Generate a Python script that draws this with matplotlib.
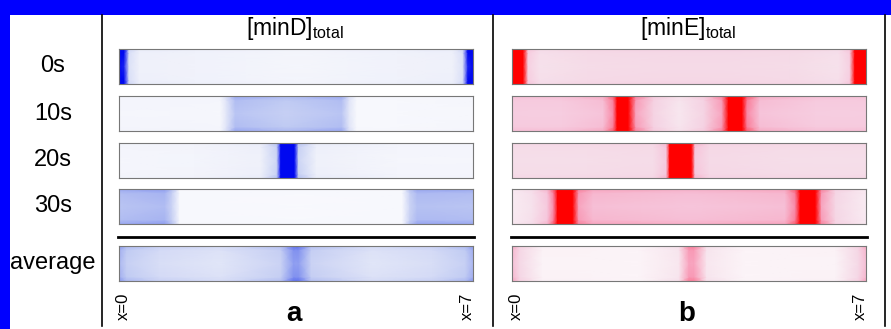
import numpy as np
import matplotlib
matplotlib.use('Agg')
import matplotlib.pyplot as plt
from matplotlib.colors import LinearSegmentedColormap
from matplotlib.patches import Rectangle

plt.rcParams['font.family'] = ['Liberation Sans', 'DejaVu Sans']
plt.rcParams['mathtext.fontset'] = 'custom'
plt.rcParams['mathtext.rm'] = 'Liberation Sans'
plt.rcParams['mathtext.it'] = 'Liberation Sans:italic'

# ---------------- data (concentration profiles along the cell, x in µm) ----------------
row_labels = ['0s', '10s', '20s', '30s', 'average']
panel_titles = [r'[minD]$_{\mathregular{total}}$', r'[minE]$_{\mathregular{total}}$']
panel_letters = ['a', 'b']

# minD (panel a)
D_0s_x = [0, 0.1, 0.2, 0.4, 1.5, 3.5, 5.5, 6.6, 6.8, 6.9, 7]
D_0s_v = [1.0, 0.9, 0.18, 0.09, 0.08, 0.05, 0.08, 0.09, 0.18, 0.9, 1.0]
D_10s_x = [0, 1.0, 2.0, 2.12, 2.3, 3.3, 4.4, 4.55, 4.7, 5.5, 7]
D_10s_v = [0.05, 0.05, 0.04, 0.15, 0.33, 0.28, 0.33, 0.15, 0.03, 0.03, 0.04]
D_20s_x = [0, 1.5, 2.8, 3.12, 3.2, 3.47, 3.55, 3.9, 5.5, 7]
D_20s_v = [0.05, 0.06, 0.09, 0.25, 1.0, 1.0, 0.25, 0.09, 0.05, 0.05]
D_30s_x = [0, 0.9, 1.05, 1.2, 3.5, 5.6, 5.75, 5.9, 7]
D_30s_v = [0.33, 0.36, 0.25, 0.03, 0.02, 0.03, 0.25, 0.34, 0.33]
D_avg_x = [0, 0.15, 0.8, 2.0, 3.2, 3.45, 3.55, 3.8, 5.0, 6.2, 6.85, 7]
D_avg_v = [0.38, 0.28, 0.2, 0.16, 0.26, 0.48, 0.48, 0.26, 0.16, 0.2, 0.28, 0.38]

# minE (panel b)
E_0s_x = [0, 0.22, 0.32, 0.55, 1.5, 3.5, 5.5, 6.45, 6.68, 6.78, 7]
E_0s_v = [1.0, 1.0, 0.2, 0.1, 0.13, 0.14, 0.13, 0.1, 0.2, 1.0, 1.0]
E_10s_x = [0, 1.0, 1.8, 2.0, 2.08, 2.3, 2.45, 2.8, 3.3, 3.8, 4.15, 4.28, 4.55, 4.65, 4.9, 6.0, 7]
E_10s_v = [0.22, 0.22, 0.28, 0.5, 1.0, 1.0, 0.4, 0.18, 0.08, 0.18, 0.4, 1.0, 1.0, 0.5, 0.28, 0.22, 0.22]
E_20s_x = [0, 1.5, 2.8, 3.05, 3.12, 3.55, 3.62, 3.9, 5.5, 7]
E_20s_v = [0.12, 0.12, 0.13, 0.25, 1.0, 1.0, 0.25, 0.14, 0.12, 0.12]
E_30s_x = [0, 0.4, 0.7, 0.82, 0.9, 1.2, 1.32, 1.6, 3.5, 5.4, 5.6, 5.7, 6.0, 6.12, 6.4, 7]
E_30s_v = [0.06, 0.1, 0.25, 0.5, 1.0, 1.0, 0.4, 0.3, 0.27, 0.3, 0.5, 1.0, 1.0, 0.4, 0.15, 0.06]
E_avg_x = [0, 0.15, 0.6, 2.5, 3.3, 3.5, 3.6, 3.85, 4.6, 6.4, 6.85, 7]
E_avg_v = [0.3, 0.15, 0.03, 0.02, 0.08, 0.4, 0.4, 0.08, 0.02, 0.03, 0.15, 0.3]

profiles = [
    [(D_0s_x, D_0s_v), (D_10s_x, D_10s_v), (D_20s_x, D_20s_v), (D_30s_x, D_30s_v), (D_avg_x, D_avg_v)],
    [(E_0s_x, E_0s_v), (E_10s_x, E_10s_v), (E_20s_x, E_20s_v), (E_30s_x, E_30s_v), (E_avg_x, E_avg_v)],
]

# ---------------- styling ----------------
cmap_blue = LinearSegmentedColormap.from_list('b', [(0, '#fbfbfe'), (0.1, '#eef0fa'), (0.3, '#c2ccf3'),
                                                    (0.6, '#6e80ee'), (1, '#0008f0')])
cmap_red = LinearSegmentedColormap.from_list('r', [(0, '#fdf9fb'), (0.12, '#f5dde9'), (0.28, '#f6c4da'),
                                                   (0.5, '#f98aa8'), (1, '#ff0000')])
cmaps = [cmap_blue, cmap_red]
y_knots = np.array([0, 0.12, 0.5, 0.88, 1.0])
y_gain = np.array([1.35, 1.1, 1.0, 1.1, 1.35])

W, H = 891, 329
fig = plt.figure(figsize=(W / 100, H / 100), dpi=100)
fig.patch.set_facecolor('#0000ff')
ov = fig.add_axes([0, 0, 1, 1])
ov.set_xlim(0, W)
ov.set_ylim(H, 0)
ov.axis('off')
ov.add_patch(Rectangle((10, 15), W - 10, H - 15, facecolor='white', edgecolor='none'))

# vertical separators
for xv in [102, 493, 885]:
    ov.plot([xv, xv], [15, 326], color='black', lw=1.2)

bar_left = [119, 512]
bar_w = 354
row_tops = [49, 96, 143, 189, 246]
bar_h = 35
row_centers = [t + bar_h / 2 for t in row_tops]

for i, lab in enumerate(row_labels):
    ov.text(53, row_centers[i], lab, ha='center', va='center', fontsize=17)

for p in range(2):
    cx = bar_left[p] + bar_w / 2
    ov.text(cx - 1, 29, panel_titles[p], ha='center', va='center', fontsize=16.5)
    ov.text(cx - 2, 314, panel_letters[p], ha='center', va='center', fontsize=20, fontweight='bold')
    ov.plot([bar_left[p] - 1, bar_left[p] + bar_w + 1], [237, 237], color='black', lw=2.0)
    ov.text(bar_left[p] + 4, 306, 'x=0', rotation=90, ha='center', va='center', fontsize=12)
    ov.text(bar_left[p] + bar_w - 6, 306, 'x=7', rotation=90, ha='center', va='center', fontsize=12)
    for r in range(5):
        xs, vs = profiles[p][r]
        xs = np.asarray(xs, float)
        vs = np.asarray(vs, float)
        C = np.clip(np.outer(y_gain, vs), 0, 1)
        ax = fig.add_axes([bar_left[p] / W, 1 - (row_tops[r] + bar_h) / H, bar_w / W, bar_h / H])
        ax.pcolormesh(xs, y_knots, C, shading='gouraud', cmap=cmaps[p], vmin=0, vmax=1)
        ax.set_xlim(0, 7)
        ax.set_ylim(0, 1)
        ax.set_xticks([])
        ax.set_yticks([])
        for s in ax.spines.values():
            s.set_color('#777777')
            s.set_linewidth(0.8)

fig.savefig('out.png', dpi=100)
